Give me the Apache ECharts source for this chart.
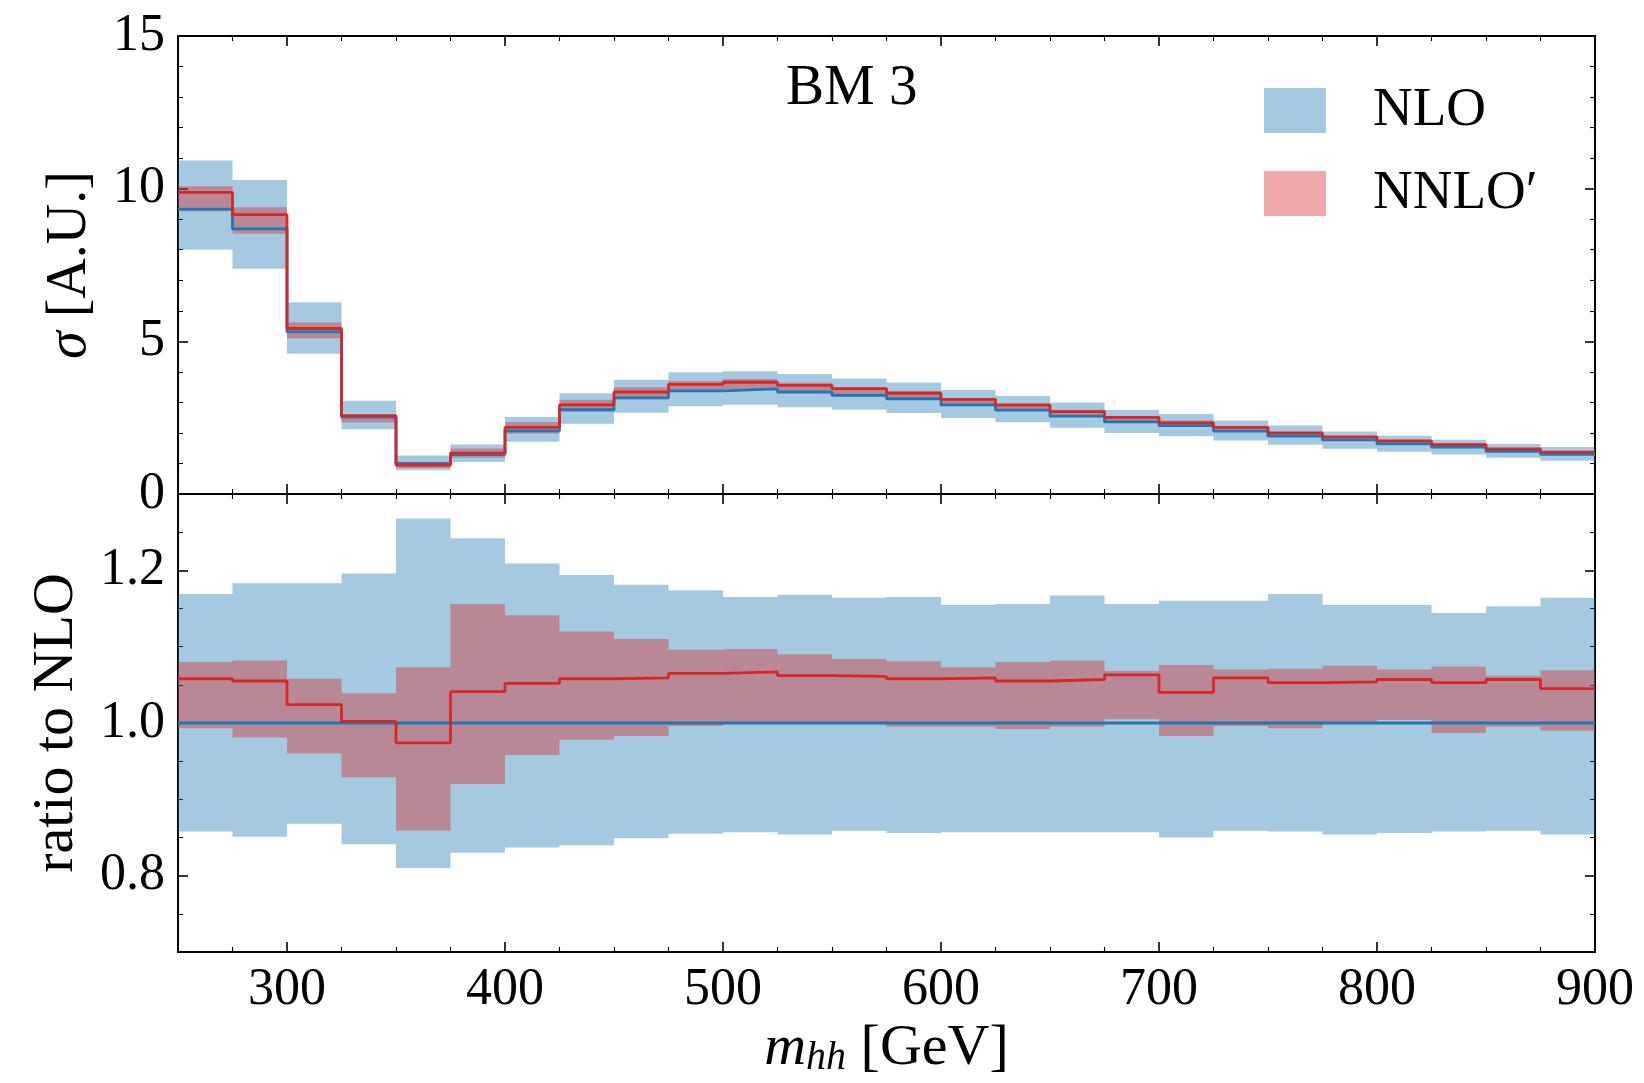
<!DOCTYPE html>
<html>
<head>
<meta charset="utf-8">
<script src="https://cdn.jsdelivr.net/npm/echarts@6/dist/echarts.min.js"></script>
<style>
html,body{margin:0;padding:0;background:#fff;}
#chart{width:1644px;height:1083px;}
</style>
</head>
<body>
<div id="chart"></div>
<script>
// ---------------- data ----------------
const binEdges = [250,275,300,325,350,375,400,425,450,475,500,525,550,575,600,625,650,675,700,725,750,775,800,825,850,875,900];

// upper panel: sigma [A.U.]
const nloCentral = [9.33,8.68,5.31,2.52,0.99,1.29,2.07,2.76,3.15,3.38,3.44,3.34,3.23,3.12,2.92,2.75,2.55,2.36,2.24,2.06,1.90,1.77,1.64,1.54,1.40,1.30];
const nloHigh    = [10.92,10.28,6.28,3.05,1.26,1.62,2.52,3.30,3.74,3.99,4.02,3.93,3.78,3.65,3.41,3.21,3.00,2.75,2.62,2.41,2.24,2.05,1.91,1.78,1.64,1.54];
const nloLow     = [8.00,7.38,4.59,2.12,0.78,1.05,1.71,2.30,2.66,2.87,2.92,2.84,2.76,2.65,2.49,2.35,2.17,2.00,1.89,1.75,1.61,1.48,1.38,1.29,1.19,1.09];
const nnloCentral= [9.88,9.15,5.42,2.56,0.95,1.34,2.18,2.92,3.34,3.59,3.66,3.56,3.45,3.30,3.10,2.91,2.70,2.51,2.33,2.18,2.00,1.87,1.74,1.62,1.48,1.37];
const nnloHigh   = [10.08,9.39,5.62,2.62,1.06,1.49,2.36,3.09,3.50,3.70,3.77,3.64,3.50,3.37,3.13,2.97,2.76,2.52,2.41,2.20,2.03,1.90,1.75,1.65,1.49,1.39];
const nnloLow    = [9.26,8.52,5.10,2.34,0.85,1.19,1.98,2.70,3.10,3.37,3.44,3.34,3.23,3.10,2.91,2.73,2.54,2.37,2.20,2.05,1.89,1.77,1.65,1.52,1.39,1.29];

// lower panel: ratio to NLO
const nloRatioCentral = [1,1,1,1,1,1,1,1,1,1,1,1,1,1,1,1,1,1,1,1,1,1,1,1,1,1];
const nloRatioHigh = [1.169,1.183,1.183,1.196,1.268,1.242,1.209,1.194,1.181,1.174,1.165,1.168,1.164,1.165,1.155,1.156,1.167,1.156,1.160,1.160,1.169,1.155,1.155,1.144,1.153,1.164];
const nloRatioLow  = [0.858,0.851,0.868,0.841,0.810,0.830,0.837,0.840,0.849,0.855,0.857,0.854,0.859,0.856,0.857,0.857,0.857,0.857,0.850,0.859,0.858,0.854,0.856,0.858,0.859,0.854];
const nnloRatioCentral = [1.058,1.055,1.024,1.002,0.974,1.041,1.052,1.058,1.059,1.065,1.067,1.062,1.061,1.058,1.059,1.055,1.057,1.063,1.040,1.059,1.053,1.054,1.057,1.053,1.057,1.045];
const nnloRatioHigh = [1.080,1.082,1.058,1.039,1.073,1.156,1.141,1.120,1.110,1.096,1.097,1.090,1.084,1.081,1.073,1.080,1.082,1.068,1.076,1.070,1.071,1.075,1.070,1.074,1.062,1.069];
const nnloRatioLow  = [0.993,0.981,0.960,0.929,0.859,0.920,0.958,0.978,0.983,0.996,0.999,0.999,1.000,0.995,0.995,0.992,0.995,1.005,0.983,0.996,0.993,1.000,1.004,0.987,0.995,0.990];

// ticks / labels
const xMajorTicks = [300,400,500,600,700,800,900];
const xMinorTicks = [275,325,350,375,425,450,475,525,550,575,625,650,675,725,750,775,825,850,875];
const xTickLabels = [300,400,500,600,700,800,900];
const ratioMajorTicks = [0.8,1.0,1.2];
const ratioMinorTicks = [0.75,0.85,0.9,0.95,1.05,1.1,1.15,1.25];
const ratioTickLabels = [0.8,1.0,1.2];

const seriesNames = { nlo: 'NLO', nnlo: 'NNLO\u2032' };
const panelTitle = 'BM 3';

// ---------------- styling ----------------
const FONT = 'Liberation Serif';
const BLUE = '#1f77b4', RED = '#d62728';
const BLUE_FILL = 'rgba(31,119,180,0.4)', RED_FILL = 'rgba(214,39,40,0.4)';
const TICK_FS = 52;

function xAxisDef(grid, pos, ticks, len, labels, extra) {
  return Object.assign({
    type: 'value', gridIndex: grid, position: pos, min: 250, max: 900,
    axisLine: { show: true, onZero: false, lineStyle: { color: '#000', width: 2 } },
    axisTick: { show: true, inside: true, length: len, customValues: ticks,
                lineStyle: { color: '#000', width: len > 6 ? 1.6 : 1.1 } },
    axisLabel: labels ? { show: true, customValues: labels, fontSize: TICK_FS, fontFamily: FONT, color: '#000', margin: 12 }
                      : { show: false },
    splitLine: { show: false }, minorTick: { show: false }, axisPointer: { show: false }
  }, extra || {});
}
function yTopDef(pos, showLabels, extra) {
  return Object.assign({
    type: 'value', gridIndex: 0, position: pos, min: 0, max: 15, interval: 5,
    axisLine: { show: true, onZero: false, lineStyle: { color: '#000', width: 2 } },
    axisTick: { show: true, inside: true, length: 10, lineStyle: { color: '#000', width: 1.6 } },
    minorTick: { show: true, splitNumber: 5, length: 5, lineStyle: { color: '#000', width: 1.1 } },
    axisLabel: showLabels ? { show: true, fontSize: TICK_FS, fontFamily: FONT, color: '#000', margin: 13 } : { show: false },
    splitLine: { show: false }, minorSplitLine: { show: false }
  }, extra || {});
}
function yBotDef(pos, ticks, len, labels, extra) {
  return Object.assign({
    type: 'value', gridIndex: 1, position: pos, min: 0.7, max: 1.3,
    axisLine: { show: true, onZero: false, lineStyle: { color: '#000', width: 2 } },
    axisTick: { show: true, inside: true, length: len, customValues: ticks,
                lineStyle: { color: '#000', width: len > 6 ? 1.6 : 1.1 } },
    axisLabel: labels ? { show: true, customValues: labels, fontSize: TICK_FS, fontFamily: FONT, color: '#000', margin: 13,
                          formatter: v => Number(v).toFixed(1) } : { show: false },
    splitLine: { show: false }, minorTick: { show: false }
  }, extra || {});
}

function band(name, xi, yi, lo, hi, color) {
  return {
    type: 'custom', name: name, xAxisIndex: xi, yAxisIndex: yi,
    coordinateSystem: 'cartesian2d', clip: true, silent: true,
    itemStyle: { color: color },
    data: [[binEdges[0], lo[0]]],
    encode: { x: 0, y: 1 },
    renderItem: function (params, api) {
      const top = [], bot = [];
      for (let i = 0; i < lo.length; i++) {
        top.push(api.coord([binEdges[i], hi[i]]), api.coord([binEdges[i + 1], hi[i]]));
        bot.push(api.coord([binEdges[i], lo[i]]), api.coord([binEdges[i + 1], lo[i]]));
      }
      return { type: 'polygon', shape: { points: top.concat(bot.reverse()) }, style: { fill: color } };
    }
  };
}
function stepLine(name, xi, yi, vals, color) {
  const pts = vals.map((v, i) => [binEdges[i], v]);
  pts.push([binEdges[vals.length], vals[vals.length - 1]]);
  return { type: 'line', name: name, xAxisIndex: xi, yAxisIndex: yi, step: 'end', data: pts,
           symbol: 'none', silent: true, clip: true,
           lineStyle: { color: color, width: 2.8 }, itemStyle: { color: color } };
}

const chart = echarts.init(document.getElementById('chart'), null, { renderer: 'canvas' });
chart.setOption({
  animation: false,
  backgroundColor: '#fff',
  title: {
    text: panelTitle, left: 786, top: 61, padding: 0,
    textStyle: { fontFamily: FONT, fontSize: 57, fontWeight: 'normal', color: '#000' }
  },
  legend: {
    orient: 'vertical', left: 1264, top: 83, padding: 0,
    itemWidth: 62, itemHeight: 45, itemGap: 28, selectedMode: false,
    data: [
      { name: seriesNames.nlo, icon: 'rect', itemStyle: { color: BLUE_FILL } },
      { name: seriesNames.nnlo, icon: 'rect', itemStyle: { color: RED_FILL } }
    ],
    textStyle: { fontFamily: FONT, fontSize: 55, color: '#000', lineHeight: 45, padding: [0, 0, 0, 42] }
  },
  grid: [
    { left: 178, top: 36, width: 1417, height: 458 },
    { left: 178, top: 494, width: 1417, height: 458 }
  ],
  xAxis: [
    xAxisDef(0, 'bottom', xMajorTicks, 10, null),
    xAxisDef(0, 'bottom', xMinorTicks, 5, null),
    xAxisDef(0, 'top', xMajorTicks, 10, null),
    xAxisDef(0, 'top', xMinorTicks, 5, null),
    xAxisDef(1, 'bottom', xMajorTicks, 10, xTickLabels, {
      name: '{m|m}{s|hh}{t| [GeV]}', nameLocation: 'middle', nameGap: 68,
      nameTextStyle: { fontFamily: FONT, color: '#000', rich: {
        m: { fontFamily: FONT, fontStyle: 'italic', fontSize: 58, lineHeight: 58 },
        s: { fontFamily: FONT, fontStyle: 'italic', fontSize: 40, lineHeight: 28, verticalAlign: 'bottom' },
        t: { fontFamily: FONT, fontSize: 58, lineHeight: 58 }
      } }
    }),
    xAxisDef(1, 'bottom', xMinorTicks, 5, null),
    xAxisDef(1, 'top', xMajorTicks, 10, null),
    xAxisDef(1, 'top', xMinorTicks, 5, null)
  ],
  yAxis: [
    yTopDef('left', true, {
      name: '{i|\u03c3} [A.U.]', nameLocation: 'middle', nameGap: 80, nameRotate: 90,
      nameTextStyle: { fontFamily: FONT, fontSize: 56, color: '#000', rich: {
        i: { fontFamily: FONT, fontStyle: 'italic', fontSize: 56 } } }
    }),
    yTopDef('right', false),
    yBotDef('left', ratioMajorTicks, 10, ratioTickLabels, {
      name: 'ratio to NLO', nameLocation: 'middle', nameGap: 92, nameRotate: 90,
      nameTextStyle: { fontFamily: FONT, fontSize: 58, color: '#000' }
    }),
    yBotDef('left', ratioMinorTicks, 5, null),
    yBotDef('right', ratioMajorTicks, 10, null),
    yBotDef('right', ratioMinorTicks, 5, null)
  ],
  series: [
    band(seriesNames.nlo, 0, 0, nloLow, nloHigh, BLUE_FILL),
    band(seriesNames.nnlo, 0, 0, nnloLow, nnloHigh, RED_FILL),
    stepLine('NLO central', 0, 0, nloCentral, BLUE),
    stepLine('NNLO central', 0, 0, nnloCentral, RED),
    band(seriesNames.nlo, 4, 2, nloRatioLow, nloRatioHigh, BLUE_FILL),
    band(seriesNames.nnlo, 4, 2, nnloRatioLow, nnloRatioHigh, RED_FILL),
    stepLine('NLO ratio', 4, 2, nloRatioCentral, BLUE),
    stepLine('NNLO ratio', 4, 2, nnloRatioCentral, RED)
  ]
});
</script>
</body>
</html>
